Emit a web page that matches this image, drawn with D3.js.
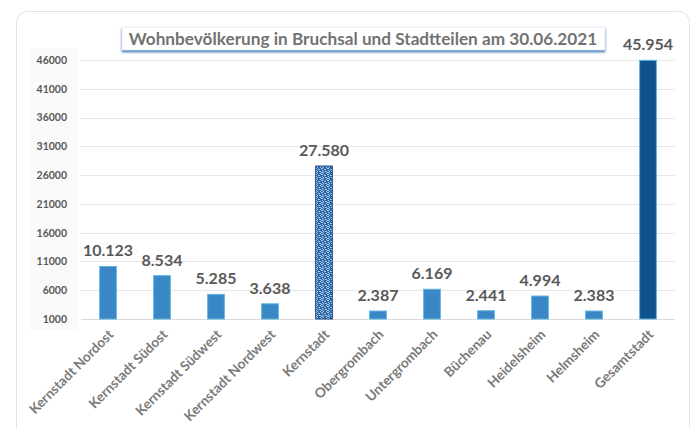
<!DOCTYPE html>
<html>
<head>
<meta charset="utf-8">
<script src="https://cdnjs.cloudflare.com/ajax/libs/d3/7.8.5/d3.min.js"></script>
<style>
  body { margin: 0; background: #fff; }
  text { font-family: Lato, "Open Sans", sans-serif; }
</style>
</head>
<body>
<div id="chart"></div>
<script>
// data
var categories = ["Kernstadt Nordost", "Kernstadt Südost", "Kernstadt Südwest", "Kernstadt Nordwest",
                  "Kernstadt", "Obergrombach", "Untergrombach", "Büchenau", "Heidelsheim", "Helmsheim", "Gesamtstadt"]
var values = [10123, 8534, 5285, 3638, 27580, 2387, 6169, 2441, 4994, 2383, 45954]
var yTicks = [1000, 6000, 11000, 16000, 21000, 26000, 31000, 36000, 41000, 46000]
var title = "Wohnbevölkerung in Bruchsal und Stadtteilen am 30.06.2021"

var W = 693, H = 428
var margin = {top: 60, right: 18, bottom: 109, left: 81},
    width = 675 - margin.left,
    height = 319 - margin.top

var de = d3.formatLocale({decimal: ",", thousands: ".", grouping: [3], currency: ["", "€"]})
var fmt = de.format(",")

var root = d3.select("#chart").append("svg")
    .attr("width", W)
    .attr("height", H)

var defs = root.append("defs")

// speckled texture for the Kernstadt bar
var pat = defs.append("pattern")
    .attr("id", "speckle")
    .attr("patternUnits", "userSpaceOnUse")
    .attr("width", 6).attr("height", 6)
pat.append("rect").attr("width", 6).attr("height", 6).attr("fill", "#2f67a8")
var specks = [[0,0,2,1],[3,1,2,1],[1,2,1,1],[4,3,2,1],[0,4,2,1],[2,5,1,1],[5,5,1,1],[2,3,1,1]]
specks.forEach(function(s) {
    pat.append("rect").attr("x", s[0]).attr("y", s[1]).attr("width", s[2]).attr("height", s[3])
        .attr("fill", "#a9c8ea")
})

var shadow = defs.append("filter").attr("id", "tshadow")
    .attr("x", "-5%").attr("y", "-30%").attr("width", "110%").attr("height", "180%")
shadow.append("feDropShadow")
    .attr("dx", 0).attr("dy", 2).attr("stdDeviation", 1.2)
    .attr("flood-color", "#2e6fb8").attr("flood-opacity", 0.9)

// panel
root.append("rect")
    .attr("x", 16.5).attr("y", 11.5)
    .attr("width", 673).attr("height", 430)
    .attr("rx", 11)
    .attr("fill", "#fff")
    .attr("stroke", "#e2e2e2")

// faint band behind the y labels
root.append("rect")
    .attr("x", 30).attr("y", 48).attr("width", 48).attr("height", 282)
    .attr("fill", "#fafafa")

var svg = root.append("g")
    .attr("transform", "translate(" + margin.left + "," + margin.top + ")")

var x = d3.scaleBand()
    .domain(categories)
    .range([0, width])
    .paddingInner(0.69)
    .paddingOuter(0.345)

var y = d3.scaleLinear()
    .domain([1000, 46000])
    .range([height, 0])

// gridlines
svg.append("g")
    .selectAll("line")
    .data(yTicks)
    .enter().append("line")
    .attr("x1", 0).attr("x2", width)
    .attr("y1", function(d) { return Math.round(y(d)) + 0.5 })
    .attr("y2", function(d) { return Math.round(y(d)) + 0.5 })
    .attr("stroke", function(d) { return d == 1000 ? "#d9d9d9" : "#e6e6e6" })

// y axis labels
var yAxis = svg.append("g")
    .attr("transform", "translate(-11,0)")
    .call(d3.axisLeft(y).tickValues(yTicks).tickSize(0).tickFormat(d3.format("d")))
yAxis.select(".domain").remove()
yAxis.selectAll("text")
    .attr("fill", "#595959")
    .style("font-size", "10.5px")
    .style("font-weight", "bold")

// bars
svg.append("g")
    .selectAll("rect")
    .data(values)
    .enter().append("rect")
    .attr("x", function(d, i) { return x(categories[i]) })
    .attr("width", x.bandwidth())
    .attr("y", function(d) { return y(d) })
    .attr("height", function(d) { return y(1000) - y(d) })
    .attr("fill", function(d, i) {
        if (categories[i] == "Kernstadt") return "url(#speckle)"
        if (categories[i] == "Gesamtstadt") return "#10528b"
        return "#3a87c5"
    })
    .attr("stroke", function(d, i) { return categories[i] == "Kernstadt" ? "#1f4f86" : "#5fb6e2" })
    .attr("stroke-width", 1)

// value labels
svg.append("g")
    .selectAll("text")
    .data(values)
    .enter().append("text")
    .attr("x", function(d, i) { return x(categories[i]) + x.bandwidth() / 2 })
    .attr("y", function(d) { return y(d) - 10 })
    .attr("text-anchor", "middle")
    .attr("fill", "#595959")
    .style("font-size", "16px")
    .style("font-weight", "bold")
    .text(function(d) { return fmt(d) })

// x labels
svg.append("g")
    .selectAll("text")
    .data(categories)
    .enter().append("text")
    .attr("transform", function(d) {
        return "translate(" + (x(d) + x.bandwidth() / 2 + 3) + "," + (height + 13) + ")rotate(-45)"
    })
    .attr("text-anchor", "end")
    .attr("dy", "0.35em")
    .attr("fill", "#7a7a7a")
    .style("font-size", "13.6px")
    .style("font-weight", "bold")
    .text(function(d) { return d })

// title box
root.append("rect")
    .attr("x", 122).attr("y", 27)
    .attr("width", 483).attr("height", 23)
    .attr("fill", "#fff")
    .attr("stroke", "#cfe0f2")
    .attr("stroke-width", 0.6)
    .attr("filter", "url(#tshadow)")

root.append("text")
    .attr("x", 363).attr("y", 45)
    .attr("text-anchor", "middle")
    .attr("fill", "#737373")
    .style("font-size", "17.2px")
    .style("font-weight", "bold")
    .text(title)
</script>
</body>
</html>
